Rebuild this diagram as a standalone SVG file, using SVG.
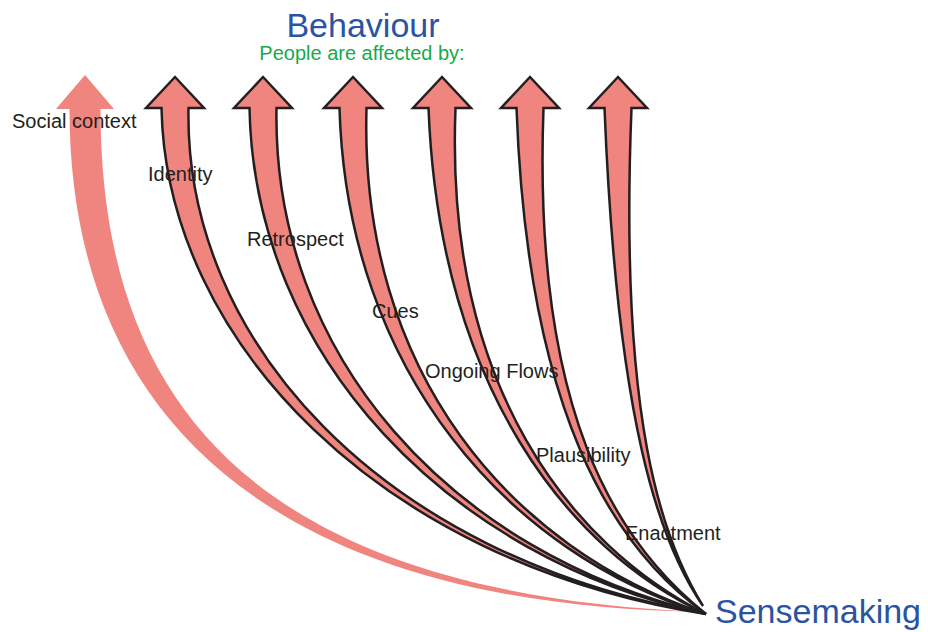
<svg xmlns="http://www.w3.org/2000/svg" width="928" height="632" viewBox="0 0 928 632">
<style>
.arr{fill:#f0847e;stroke:#231f20;stroke-width:2.5;stroke-linejoin:miter;stroke-miterlimit:10}
.soc{fill:#f0847e;stroke:none}
.lbl{font-family:"Liberation Sans",Arial,sans-serif;font-size:20px;fill:#231f20}
.blue{font-family:"Liberation Sans",Arial,sans-serif;font-size:34px;fill:#2a54a2}
.green{font-family:"Liberation Sans",Arial,sans-serif;font-size:20px;fill:#17aa4b}
</style>
<rect width="928" height="632" fill="#ffffff"/>
<g id="connectors">
<path class="soc" d="M705,612 C250,606 69.5,400 69.5,109 L56,109 L85,75 L114,109 L100.5,109 C100.5,400 250,594 705,612 Z"/>
<path class="arr" d="M706,614 C379.5,563 166,340 161.5,108 L146,108 L175,77 L204,108 L188.5,108 C184,340 380.5,557 706,614 Z"/>
<path class="arr" d="M706,614 C449.3,558.9 254,356 249.5,108 L234,108 L263,77 L292,108 L276.5,108 C272,356 450.7,553.1 706,614 Z"/>
<path class="arr" d="M706,614 C509.1,554.9 347,372 339.5,108 L324,108 L353,77 L382,108 L366.5,108 C359,372 510.9,549.1 706,614 Z"/>
<path class="arr" d="M706,614 C568.7,550.7 439.5,388 428.5,108 L413,108 L442,77 L471,108 L455.5,108 C444.5,388 571.3,545.3 706,614 Z"/>
<path class="arr" d="M706,614 C611,546.4 527.5,410 516.5,108 L501,108 L530,77 L559,108 L543.5,108 C532.5,410 615,541.6 706,614 Z"/>
<path class="arr" d="M703,606 C658.3,541.1 617,420 604.5,108 L589,108 L618,77 L647,108 L631.5,108 C619,420 661.7,538.9 703,606 Z"/>
<text class="lbl" x="12" y="128">Social context</text>
<text class="lbl" x="148" y="181">Identity</text>
<text class="lbl" x="247" y="246">Retrospect</text>
<text class="lbl" x="372" y="318">Cues</text>
<text class="lbl" x="425" y="378">Ongoing Flows</text>
<text class="lbl" x="536" y="462">Plausibility</text>
<text class="lbl" x="625" y="540">Enactment</text>
</g>
<g id="behaviour">
<text class="blue" x="363" y="37" text-anchor="middle">Behaviour</text>
<text class="green" x="362" y="60" text-anchor="middle">People are affected by:</text>
</g>
<g id="sensemaking">
<text class="blue" x="715" y="623">Sensemaking</text>
</g>
</svg>
